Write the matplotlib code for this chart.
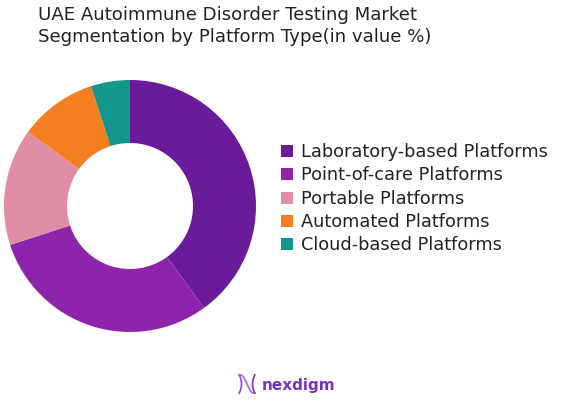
import matplotlib
matplotlib.use("Agg")
import matplotlib.pyplot as plt
import numpy as np
from matplotlib.patches import Rectangle

categories = ["Laboratory-based Platforms", "Point-of-care Platforms", "Portable Platforms",
              "Automated Platforms", "Cloud-based Platforms"]
values = [40, 30, 15, 10, 5]
colors = ["#6A1B9A", "#8E24AA", "#E08DA5", "#F47F20", "#12978A"]
title = "UAE Autoimmune Disorder Testing Market\nSegmentation by Platform Type(in value %)"

W, H = 563, 410
fig = plt.figure(figsize=(W/100, H/100), dpi=100)
fig.patch.set_facecolor("white")

cx, cy, r = 130, 207, 126
ax = fig.add_axes([(cx - r)/W, (H - cy - r)/H, 2*r/W, 2*r/H])
ax.pie(values, colors=colors, startangle=90, counterclock=False, radius=1,
       wedgeprops=dict(width=0.5, edgecolor="none"))
ax.set_xlim(-1, 1); ax.set_ylim(-1, 1)
ax.set_aspect("equal")
ax.axis("off")

fig.text(38/W, 1 - 6/H, title, ha="left", va="top", fontsize=13.1,
         family="DejaVu Sans", color="#222222", linespacing=1.3)

# legend
y0, dy = 152, 23.3
for i, (c, col) in enumerate(zip(categories, colors)):
    y = y0 + i*dy
    fig.patches.append(Rectangle((281/W, 1 - (y + 6)/H), 12/W, 12/H,
                                 transform=fig.transFigure, facecolor=col, edgecolor="none"))
    fig.text(301/W, 1 - y/H, c, ha="left", va="center", fontsize=12.8,
             family="DejaVu Sans", color="#222222")

# logo
lax = fig.add_axes([236/W, 1 - 396/H, 22/W, 22/H])
t = np.linspace(0, 1, 100)
lax.plot(0.15 + 0.1*np.sin(t*np.pi), t, color="#8E44D8", lw=1.2)
lax.plot(0.15 + 0.7*t, 1 - t + 0.15*np.sin(2*np.pi*t), color="#B060E0", lw=1.2)
lax.plot(0.85 - 0.1*np.sin(t*np.pi), t, color="#7B2FC0", lw=1.2)
lax.set_xlim(0, 1); lax.set_ylim(-0.1, 1.1); lax.axis("off")
fig.text(262/W, 1 - 386/H, "nexdigm", ha="left", va="center", fontsize=11,
         fontweight="bold", color="#7B2FC0", family="DejaVu Sans")

fig.savefig("out.png", dpi=100, facecolor="white")
